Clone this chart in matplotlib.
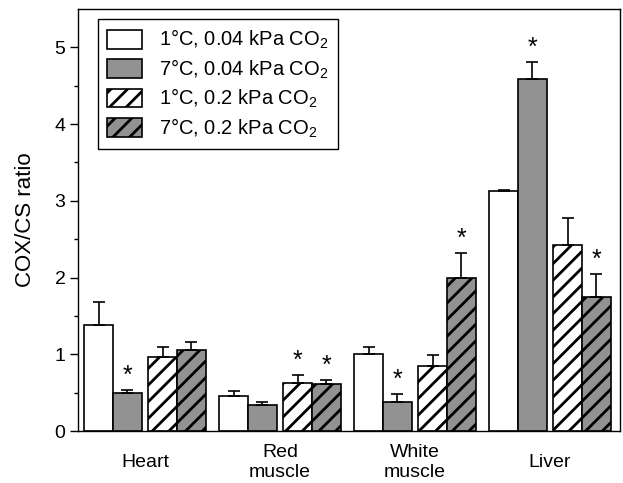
import numpy as np
import matplotlib
matplotlib.use("Agg")
import matplotlib.pyplot as plt

plt.rcParams["font.family"] = ["Liberation Sans", "DejaVu Sans"]
plt.rcParams["mathtext.default"] = "regular"
plt.rcParams["hatch.linewidth"] = 2.0

tissues = ["Heart", "Red\nmuscle", "White\nmuscle", "Liver"]
series = ["1°C, 0.04 kPa CO$_2$", "7°C, 0.04 kPa CO$_2$",
          "1°C, 0.2 kPa CO$_2$", "7°C, 0.2 kPa CO$_2$"]

# mean COX/CS ratio per tissue, one list per condition
c1_low = [1.38, 0.46, 1.01, 3.13]
c7_low = [0.50, 0.34, 0.38, 4.59]
c1_high = [0.97, 0.63, 0.85, 2.42]
c7_high = [1.06, 0.61, 1.99, 1.75]

# upper error (SE)
e1_low = [0.30, 0.065, 0.08, 0.01]
e7_low = [0.03, 0.04, 0.10, 0.22]
e1_high = [0.13, 0.10, 0.14, 0.35]
e7_high = [0.10, 0.056, 0.33, 0.29]

# significance markers
s1_low = [False, False, False, False]
s7_low = [True, False, True, True]
s1_high = [False, True, False, False]
s7_high = [False, True, True, True]

means = [c1_low, c7_low, c1_high, c7_high]
errs = [e1_low, e7_low, e1_high, e7_high]
stars = [s1_low, s7_low, s1_high, s7_high]
colors = ["white", "#929292", "white", "#929292"]
hatches = [None, None, "//", "//"]

fig = plt.figure(figsize=(6.23, 4.83), dpi=100)
ax = fig.add_axes([78 / 623, 1 - 431 / 483, 542 / 623, 422 / 483])

x = np.arange(len(tissues))
w = 0.2126
gap = 0.049
offsets = [-1.5 * w - gap / 2, -0.5 * w - gap / 2, 0.5 * w + gap / 2, 1.5 * w + gap / 2]

for i in range(4):
    ax.bar(x + offsets[i], means[i], w, color=colors[i], edgecolor="black",
           linewidth=1.2, hatch=hatches[i], label=series[i], zorder=2)
    ax.errorbar(x + offsets[i], means[i], yerr=[np.zeros(4), errs[i]], fmt="none",
                ecolor="black", elinewidth=1.2, capsize=4, capthick=1.2, zorder=3)
    for j in range(4):
        if stars[i][j]:
            ax.text(x[j] + offsets[i], means[i][j] + errs[i][j] + 0.03, "*",
                    ha="center", va="bottom", fontsize=18)

ax.set_xlim(-0.496, 3.519)
ax.set_ylim(0, 5.5)
ax.set_yticks([0, 1, 2, 3, 4, 5])
ax.set_yticks(np.arange(0.5, 5.5, 1.0), minor=True)
ax.tick_params(axis="y", which="major", length=6, width=1, labelsize=14, direction="out", pad=3)
ax.tick_params(axis="y", which="minor", length=3, width=1, direction="out")
ax.set_xticks(x)
ax.set_xticklabels(tissues, fontsize=14, va="center", linespacing=1.25)
ax.tick_params(axis="x", length=0, pad=22.5)
ax.set_ylabel("COX/CS ratio", fontsize=16, labelpad=13)

for sp in ax.spines.values():
    sp.set_linewidth(1.0)

leg = ax.legend(loc="upper left", bbox_to_anchor=(0.037, 0.976), borderaxespad=0,
                fontsize=14.5, fancybox=False, edgecolor="black", framealpha=1,
                handlelength=1.75, handleheight=1.05, labelspacing=0.3,
                handletextpad=0.85, borderpad=0.45)
leg.get_frame().set_linewidth(1.0)

fig.savefig("out.png", dpi=100)
